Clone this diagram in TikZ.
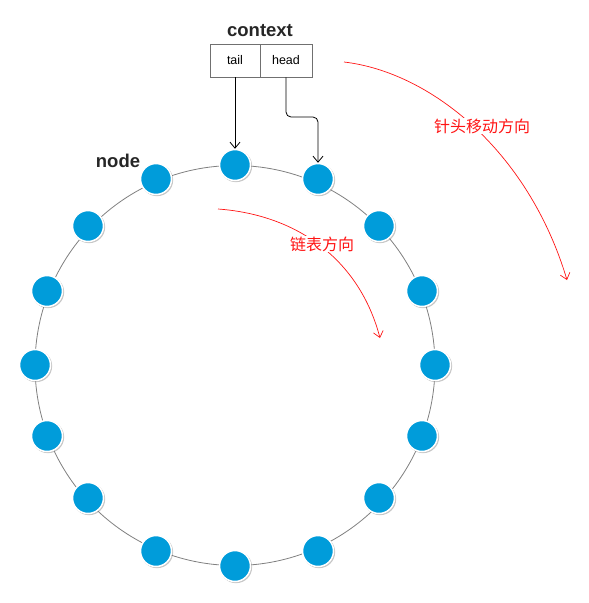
\documentclass[tikz,border=0pt]{standalone}
\usepackage{fontspec}
\setmainfont{Liberation Sans}
\newfontfamily\cjk{Noto Sans CJK SC}
\usetikzlibrary{shadows,arrows.meta}
\definecolor{nodeblue}{RGB}{0,156,218}
\definecolor{ringgray}{RGB}{128,128,128}
\definecolor{boxgray}{RGB}{112,112,112}
\definecolor{arrred}{RGB}{255,20,20}
\tikzset{
  ringnode/.style={circle,fill=nodeblue,draw=white,line width=1.5pt,minimum size=31pt,inner sep=0pt,
    drop shadow={opacity=0.45,shadow xshift=1pt,shadow yshift=-1pt,shadow scale=1.04,fill=gray}},
  cell/.style={draw=boxgray,line width=0.8pt,minimum height=33pt,inner sep=0pt,font=\fontsize{12.5pt}{14pt}\selectfont},
  title/.style={font=\fontsize{18.5pt}{20pt}\selectfont\bfseries,text=black!85},
  dirtext/.style={font=\cjk\fontsize{16pt}{18pt}\selectfont,text=arrred,fill=white,inner sep=1pt},
  dirarrow/.style={draw=arrred,line width=0.7pt,-{Straight Barb[length=6pt,width=10pt]}},
  ptrarrow/.style={draw=black,line width=0.8pt,-{Straight Barb[length=6pt,width=10pt]}}
}
\begin{document}
\begin{tikzpicture}[x=1pt,y=-1pt]
\useasboundingbox (0,0) rectangle (589,603);
\coordinate (c) at (235,365.5);
\draw[ringgray,line width=0.8pt] (c) circle[radius=200pt];
% nodes
\node[ringnode] (n0) at (235,165) {};
\node[ringnode] (n1) at (318,179) {};
\node[ringnode] (n2) at (379,226) {};
\node[ringnode] (n3) at (422,291) {};
\node[ringnode] (n4) at (435,365) {};
\node[ringnode] (n5) at (422,436) {};
\node[ringnode] (n6) at (379,498) {};
\node[ringnode] (n7) at (318,551) {};
\node[ringnode] (n8) at (235,566) {};
\node[ringnode] (n9) at (156,551) {};
\node[ringnode] (n10) at (88,498) {};
\node[ringnode] (n11) at (47,436) {};
\node[ringnode] (n12) at (35,365) {};
\node[ringnode] (n13) at (47,291) {};
\node[ringnode] (n14) at (88,226) {};
\node[ringnode] (n15) at (156,179) {};
% labels
\node[title] (nodelbl) at (118,161) {node};
\node[title] (ctxlbl) at (260,31) {context};
% context box
\node[cell,minimum width=50pt] (tail) at (235,60.5) {tail};
\node[cell,minimum width=52pt] (head) at (286,60.5) {head};
% pointers
\draw[ptrarrow] (tail.south) -- (n0.north);
\draw[ptrarrow,rounded corners=5pt] (head.south) -- (286,117) -| (n1.north);
% direction arrows
\draw[dirarrow] (218,209) .. controls (300,215) and (360,262) .. (380,338);
\node[dirtext] (dir1) at (322,244) {链表方向};
\draw[dirarrow] (344,62) .. controls (430,72) and (528,150) .. (567,280);
\node[dirtext] (dir2) at (482,126) {针头移动方向};
\end{tikzpicture}
\end{document}
